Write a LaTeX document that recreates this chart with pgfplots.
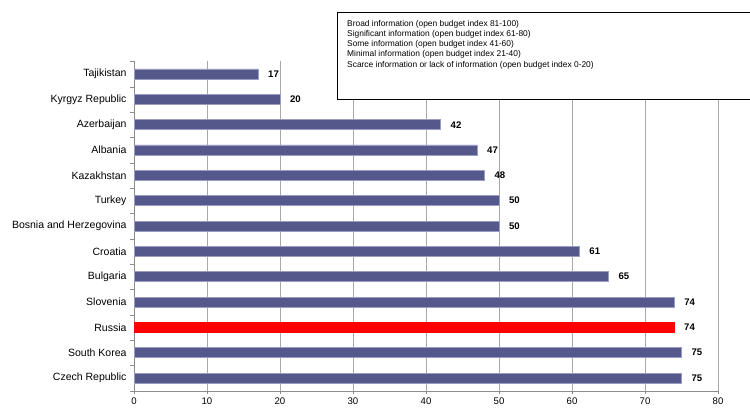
\documentclass[border=0pt]{standalone}
\usepackage{pgfplots}
\pgfplotsset{compat=1.18}
\usepackage{fontspec}
\setmainfont{Liberation Sans}
\definecolor{barblue}{HTML}{55588A}
\definecolor{baredge}{HTML}{9A9CC4}
\definecolor{gridgray}{HTML}{A8A8A8}
\definecolor{axisgray}{HTML}{8C8C8C}
\begin{document}
\begin{tikzpicture}[x=1pt,y=1pt]
\useasboundingbox (0,0) rectangle (750,408);
\begin{axis}[
	at={(134pt,17.3pt)}, anchor=south west,
	scale only axis, width=584pt, height=329.4pt,
	xbar, bar width=10pt, bar shift=0pt,
	xmin=0, xmax=80, ymin=-0.5, ymax=12.5, y dir=reverse,
	xtick={0,10,...,80},
	ytick={0,...,12},
	yticklabels={Tajikistan,Kyrgyz Republic,Azerbaijan,Albania,Kazakhstan,Turkey,Bosnia and Herzegovina,Croatia,Bulgaria,Slovenia,Russia,South Korea,Czech Republic},
	minor ytick={-0.5,0.5,...,12.5},
	major y tick style={draw=none},
	tick align=outside,
	major tick length=3.5pt, minor tick length=4pt,
	tick style={axisgray},
	axis x line*=bottom, axis y line*=left,
	axis line style={axisgray},
	xmajorgrids, grid style={gridgray},
	ticklabel style={font=\fontsize{9.6}{11}\selectfont},
	yticklabel style={font=\fontsize{10.5}{12}\selectfont, xshift=-0.5pt},
	/pgf/number format/assume math mode=true,
	nodes near coords,
	nodes near coords style={font=\bfseries\fontsize{9.6}{11}\selectfont, xshift=6.5pt},
]
\addplot[fill=barblue, draw=baredge, line width=0.6pt]
	coordinates {(17,0) (20,1) (42,2) (47,3) (48,4) (50,5) (50,6)
		(61,7) (65,8) (74,9) (75,11) (75,12)};
\addplot[fill=red, draw=red]
	coordinates {(74,10)};
\end{axis}
\fill[white] (337,395.7) rectangle (750,309);
\draw[black, line width=0.7pt] (751,395.7) -- (337,395.7) -- (337,309) -- (751,309);
\foreach \t [count=\i from 0] in {%
	Broad information (open budget index 81-100),
	Significant information (open budget index 61-80),
	Some information (open budget index 41-60),
	Minimal information (open budget index 21-40),
	Scarce information or lack of information (open budget index 0-20)}
	\node[anchor=base west, inner sep=0pt, font=\fontsize{8.4}{10}\selectfont]
		at (347,381.7-10.2*\i) {\t};
\end{tikzpicture}
\end{document}
